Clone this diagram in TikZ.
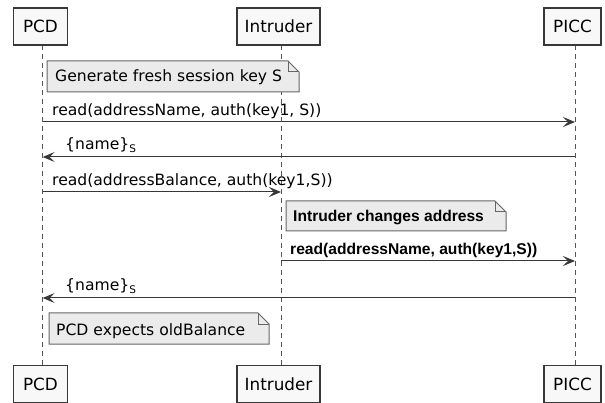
\documentclass[tikz,border=0pt]{standalone}
\usepackage{fontspec}
\setmainfont{DejaVu Sans}
\newfontfamily\arialfont{Liberation Sans}
\usetikzlibrary{arrows.meta}
\definecolor{boxfill}{HTML}{F8F8F8}
\definecolor{boxline}{HTML}{383838}
\definecolor{notefill}{HTML}{EBEBEB}
\definecolor{noteline}{HTML}{666666}
\definecolor{lifecol}{HTML}{555555}
\definecolor{arrowcol}{HTML}{383838}
\tikzset{
  part/.style={draw=boxline, fill=boxfill, line width=1.3pt, minimum height=37pt,
    inner sep=0pt, font=\fontsize{16.8}{20}\selectfont},
  life/.style={draw=lifecol, dash pattern=on 5pt off 4pt, line width=0.9pt},
  msg/.style={draw=arrowcol, line width=1pt, -{Stealth[length=12pt, width=10pt, inset=5pt]}},
  lbl/.style={anchor=base west, inner sep=0pt, font=\fontsize{15.6}{18}\selectfont},
  blbl/.style={anchor=base west, inner sep=0pt, font=\arialfont\bfseries\fontsize{15.6}{18}\selectfont},
  notebg/.style={draw=noteline, fill=notefill, line width=1pt},
}
\newcommand{\notebox}[4]{%
  \path[notebg] (#1,#2) -- (#3-11,#2) -- (#3,#2+11) -- (#3,#4) -- (#1,#4) -- cycle;
  \draw[noteline, line width=1pt] (#3-11,#2) -- (#3-11,#2+11) -- (#3,#2+11);
}
\begin{document}
\begin{tikzpicture}[x=1pt,y=-1pt]
\useasboundingbox[fill=white] (0,0) rectangle (605,403);

% lifelines
\coordinate (pcdA) at (42.7,45);  \coordinate (pcdZ) at (42.7,366);
\coordinate (intA) at (281,45);   \coordinate (intZ) at (281,366);
\coordinate (picA) at (575,45);   \coordinate (picZ) at (575,366);
\draw[life] (pcdA) -- (pcdZ);
\draw[life] (intA) -- (intZ);
\draw[life] (picA) -- (picZ);

% participants
\node[part, minimum width=54.4pt] (pcdT) at (40.5,26.5) {PCD};
\node[part, minimum width=83pt] (intT) at (278.5,26.5) {Intruder};
\node[part, minimum width=57pt] (picT) at (572.5,26.5) {PICC};
\node[part, minimum width=54.4pt] (pcdB) at (40.5,384) {PCD};
\node[part, minimum width=83pt] (intB) at (278.5,384) {Intruder};
\node[part, minimum width=57pt] (picB) at (572.5,384) {PICC};

% note 1
\notebox{47}{61}{299}{92}
\node[lbl] (n1) at (55,82) {Generate fresh session key S};

% message 1
\coordinate (m1a) at (42.7,122); \coordinate (m1b) at (575,122);
\draw[msg] (m1a) -- (m1b);
\node[lbl] (l1) at (52,115.5) {read(addressName, auth(key1, S))};

% message 2
\coordinate (m2a) at (575,157); \coordinate (m2b) at (42.7,157);
\draw[msg] (m2a) -- (m2b);
\node[lbl] (l2) at (65,149.5) {\{name\}\raisebox{-3pt}{\fontsize{10.5}{12}\selectfont S}};

% message 3
\coordinate (m3a) at (42.7,192); \coordinate (m3b) at (281,192);
\draw[msg] (m3a) -- (m3b);
\node[lbl] (l3) at (52,185.5) {read(addressBalance, auth(key1,S))};

% note 2
\notebox{286}{201}{506}{231}
\node[blbl] (n2) at (293,221.5) {Intruder changes address};

% message 4
\coordinate (m4a) at (281,261); \coordinate (m4b) at (575,261);
\draw[msg] (m4a) -- (m4b);
\node[blbl] (l4) at (290,255) {read(addressName, auth(key1,S))};

% message 5
\coordinate (m5a) at (575,298); \coordinate (m5b) at (42.7,298);
\draw[msg] (m5a) -- (m5b);
\node[lbl] (l5) at (65,290.5) {\{name\}\raisebox{-3pt}{\fontsize{10.5}{12}\selectfont S}};

% note 3
\notebox{49}{313}{269}{344}
\node[lbl] (n3) at (56,335) {PCD expects oldBalance};
\end{tikzpicture}
\end{document}
